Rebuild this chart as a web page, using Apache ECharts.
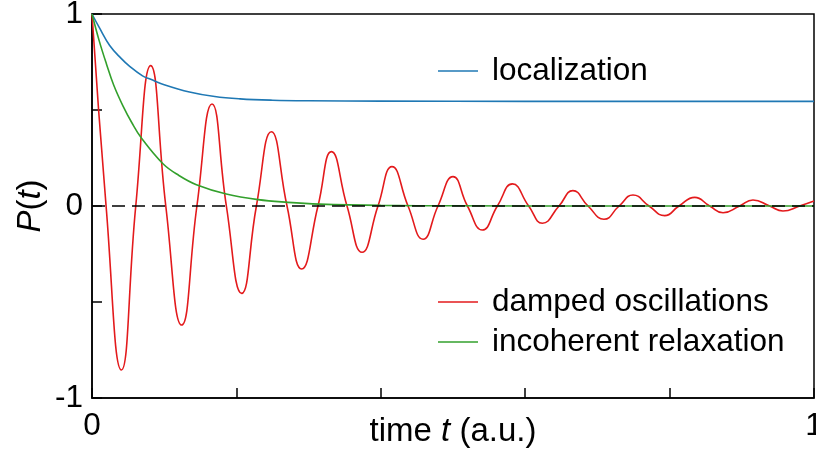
<!DOCTYPE html>
<html>
<head>
<meta charset="utf-8">
<script src="https://cdn.jsdelivr.net/npm/echarts@6/dist/echarts.min.js"></script>
<style>
html,body{margin:0;padding:0;background:#fff;}
#chart{width:816px;height:454px;}
</style>
</head>
<body>
<div id="chart"></div>
<script>
// ---- data ----
const seriesNames = ['localization', 'damped oscillations', 'incoherent relaxation'];

const localization = [
  [0, 1], [0.01, 0.93], [0.0245, 0.836], [0.04, 0.77], [0.0522, 0.727], [0.07, 0.678],
  [0.0813, 0.660], [0.1, 0.632], [0.135, 0.594], [0.17, 0.570], [0.205, 0.558],
  [0.25, 0.551], [0.3, 0.548], [0.4, 0.546], [0.6, 0.545], [0.8, 0.545], [1, 0.545]
];

const dampedOscillations = [
  [0, 1], [0.0195, 0], [0.0407, -0.854], [0.0606, 0], [0.0813, 0.731], [0.1022, 0],
  [0.1242, -0.620], [0.1453, 0], [0.1662, 0.531], [0.1861, 0], [0.2073, -0.455],
  [0.2277, 0], [0.2484, 0.387], [0.2701, 0], [0.2904, -0.328], [0.313, 0],
  [0.3316, 0.283], [0.3532, 0], [0.374, -0.241], [0.3961, 0], [0.4155, 0.205],
  [0.4377, 0], [0.4585, -0.173], [0.4792, 0], [0.500, 0.153], [0.52, 0],
  [0.5407, -0.125], [0.5615, 0], [0.5823, 0.115], [0.6048, 0], [0.6238, -0.090],
  [0.6468, 0], [0.666, 0.080], [0.687, 0], [0.7091, -0.069], [0.730, 0],
  [0.7493, 0.057], [0.7715, 0], [0.7932, -0.050], [0.813, 0], [0.8348, 0.045],
  [0.8555, 0], [0.874, -0.035], [0.897, 0], [0.9155, 0.031], [0.9386, 0],
  [0.957, -0.026], [0.980, 0], [1.0, 0.026]
];

const incoherentRelaxation = [
  [0, 1], [0.01, 0.86], [0.02, 0.74], [0.03, 0.63], [0.043, 0.52], [0.055, 0.435],
  [0.0684, 0.354], [0.0983, 0.22], [0.12, 0.16], [0.1446, 0.111], [0.186, 0.0625],
  [0.23, 0.033], [0.2715, 0.019], [0.3154, 0.010], [0.4, 0.003], [0.5, 0.001],
  [0.7, 0], [1, 0]
];

const zeroLine = [[0, 0], [1, 0]];

const xLabelled = [0, 1];
const yLabelled = [-1, 0, 1];
const xAxisTitle = 'time {i|t} (a.u.)';
const yAxisTitle = '{i|P}({i|t})';

// ---- chart ----
const FONT = 'Liberation Sans';
const FS = 31.5;
const NFS = 33;
const colors = ['#1f78b4', '#e31a1c', '#33a02c'];

function near(v, list) { return list.some(t => Math.abs(v - t) < 1e-9); }

const chart = echarts.init(document.getElementById('chart'), null, {renderer: 'canvas'});
const option = {
  animation: false,
  backgroundColor: '#fff',
  textStyle: {fontFamily: FONT},
  grid: {left: 92, right: 2, top: 14, bottom: 56, show: true, borderColor: '#000', borderWidth: 1.5,
         containLabel: false, outerBoundsMode: 'none'},
  legend: [
    {
      data: [seriesNames[0]], left: 433, top: 50, orient: 'vertical',
      itemWidth: 40, itemHeight: 1.5, icon: 'rect', itemGap: 8,
      textStyle: {fontFamily: FONT, fontSize: FS, color: '#000', padding: [0, 0, 0, 9]}
    },
    {
      data: [seriesNames[1], seriesNames[2]], left: 433, top: 281, orient: 'vertical',
      itemWidth: 40, itemHeight: 1.5, icon: 'rect', itemGap: 8,
      textStyle: {fontFamily: FONT, fontSize: FS, color: '#000', padding: [0, 0, 0, 9]}
    }
  ],
  xAxis: {
    type: 'value', min: 0, max: 1, interval: 0.2,
    axisLine: {show: true, onZero: false, lineStyle: {color: '#000', width: 1.5}},
    axisTick: {show: true, inside: true, length: 10, lineStyle: {color: '#000', width: 1.5}},
    splitLine: {show: false},
    axisLabel: {
      show: true, margin: 12, color: '#000', fontFamily: FONT, fontSize: FS,
      showMinLabel: true, showMaxLabel: true, hideOverlap: false,
      formatter: v => near(v, xLabelled) ? String(Math.round(v)) : ''
    },
    name: xAxisTitle, nameLocation: 'middle', nameGap: 17, nameMoveOverlap: false,
    nameTextStyle: {
      color: '#000', fontFamily: FONT, fontSize: NFS,
      rich: {i: {fontStyle: 'italic', fontFamily: FONT, fontSize: NFS, color: '#000'}}
    }
  },
  yAxis: {
    type: 'value', min: -1, max: 1, interval: 0.5,
    axisLine: {show: true, onZero: false, lineStyle: {color: '#000', width: 1.5}},
    axisTick: {show: true, inside: true, length: 10, lineStyle: {color: '#000', width: 1.5}},
    splitLine: {show: false},
    axisLabel: {
      show: true, margin: 9, color: '#000', fontFamily: FONT, fontSize: FS,
      showMinLabel: true, showMaxLabel: true, hideOverlap: false,
      formatter: v => near(v, yLabelled) ? String(Math.round(v)) : ''
    },
    name: yAxisTitle, nameLocation: 'middle', nameGap: 45, nameRotate: 90, nameMoveOverlap: false,
    nameTextStyle: {
      color: '#000', fontFamily: FONT, fontSize: NFS,
      rich: {i: {fontStyle: 'italic', fontFamily: FONT, fontSize: NFS, color: '#000'}}
    }
  },
  series: [
    {
      name: seriesNames[0], type: 'line', data: localization, showSymbol: false, smooth: 0.4,
      color: colors[0], lineStyle: {color: colors[0], width: 1.6}, z: 3
    },
    {
      name: seriesNames[1], type: 'line', data: dampedOscillations, showSymbol: false, smooth: 0.5,
      color: colors[1], lineStyle: {color: colors[1], width: 1.6}, z: 2
    },
    {
      name: seriesNames[2], type: 'line', data: incoherentRelaxation, showSymbol: false, smooth: 0.4,
      color: colors[2], lineStyle: {color: colors[2], width: 1.6}, z: 4
    },
    {
      name: 'zero', type: 'line', data: zeroLine, showSymbol: false,
      color: '#000', lineStyle: {color: '#000', width: 1.5, type: [13, 7]}, z: 5,
      silent: true
    }
  ]
};
chart.setOption(option);
</script>
</body>
</html>
